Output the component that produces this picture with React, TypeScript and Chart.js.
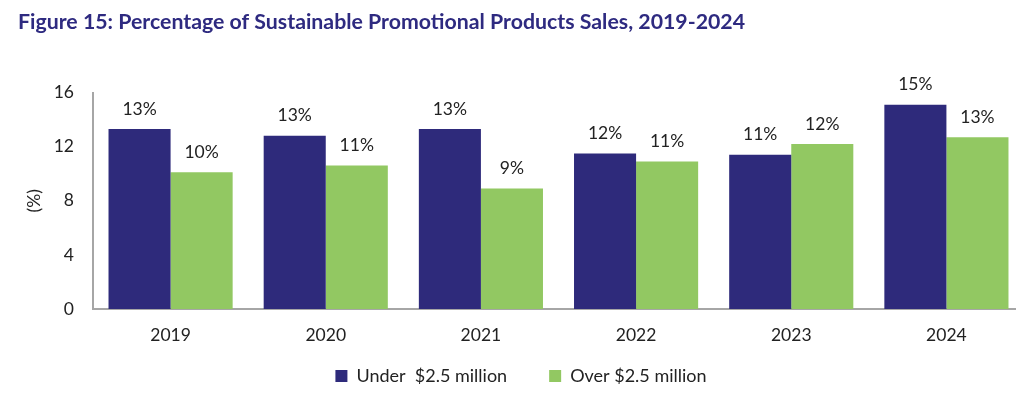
import React, { useEffect, useRef } from "react";
import { Chart, registerables } from "chart.js";

Chart.register(...registerables);

const categories = ["2019", "2020", "2021", "2022", "2023", "2024"];
const underValues = [13.3, 12.8, 13.3, 11.5, 11.4, 15.1];
const overValues = [10.1, 10.6, 8.9, 10.9, 12.2, 12.7];
const underLabels = ["13%", "13%", "13%", "12%", "11%", "15%"];
const overLabels = ["10%", "11%", "9%", "11%", "12%", "13%"];
const seriesNames = ["Under  $2.5 million", "Over $2.5 million"];
const yTicks = [0, 4, 8, 12, 16];

const FONT = "Lato, 'Open Sans', sans-serif";
const LEGEND_HEIGHT = 49;
const LEGEND_SHIFT = -24;

const valueLabelPlugin = {
  id: "valueLabels",
  afterDatasetsDraw(chart: any) {
    const ctx = chart.ctx;
    const labelSets = [underLabels, overLabels];
    ctx.save();
    ctx.font = `17.5px ${FONT}`;
    ctx.fillStyle = "#222222";
    ctx.textAlign = "center";
    ctx.textBaseline = "middle";
    chart.data.datasets.forEach((_ds: any, di: number) => {
      const meta = chart.getDatasetMeta(di);
      meta.data.forEach((bar: any, i: number) => {
        ctx.fillText(labelSets[di][i], bar.x, bar.y - 20);
      });
    });
    ctx.restore();
  },
};

const legendLayoutPlugin = {
  id: "legendLayout",
  beforeLayout(chart: any) {
    const lg = chart.legend;
    if (lg && !lg.__patched) {
      const orig = lg.fit.bind(lg);
      lg.fit = function () {
        orig();
        this.height = LEGEND_HEIGHT;
      };
      lg.__patched = true;
    }
  },
  afterLayout(chart: any) {
    const lg = chart.legend;
    if (lg) {
      lg.top += LEGEND_SHIFT;
      lg.height -= LEGEND_SHIFT;
    }
  },
};

export default function App() {
  const ref = useRef<HTMLCanvasElement | null>(null);
  useEffect(() => {
    if (!ref.current) return;
    const chart = new Chart(ref.current, {
      type: "bar",
      data: {
        labels: categories,
        datasets: [
          {
            label: seriesNames[0],
            data: underValues,
            backgroundColor: "#2E2A7B",
            borderWidth: 0,
          },
          {
            label: seriesNames[1],
            data: overValues,
            backgroundColor: "#92C862",
            borderWidth: 0,
          },
        ],
      },
      options: {
        animation: false,
        responsive: false,
        maintainAspectRatio: false,
        layout: { padding: { left: 18, right: 0, top: 0, bottom: 0 } },
        datasets: { bar: { categoryPercentage: 0.8, barPercentage: 1.0 } },
        plugins: {
          title: {
            display: true,
            text: "Figure 15: Percentage of Sustainable Promotional Products Sales, 2019-2024",
            align: "start",
            color: "#2E2A80",
            font: { family: FONT, size: 21.3, weight: "bold" },
            padding: { top: 9, bottom: 58 },
          },
          legend: {
            position: "bottom",
            labels: {
              color: "#222222",
              font: { family: FONT, size: 18 },
              boxWidth: 12,
              boxHeight: 12,
              padding: 42,
            },
          },
          tooltip: { enabled: false },
        },
        scales: {
          x: {
            grid: { display: false, drawTicks: false },
            border: { display: true, color: "#A6A6A6", width: 2 },
            ticks: { color: "#222222", font: { family: FONT, size: 17.5 }, padding: 16 },
            afterFit: (s: any) => {
              s.height = 40;
            },
          },
          y: {
            min: 0,
            max: 16,
            afterBuildTicks: (s: any) => {
              s.ticks = yTicks.map((v) => ({ value: v }));
            },
            grid: { display: false, drawTicks: false },
            border: { display: true, color: "#A6A6A6", width: 2 },
            ticks: { color: "#222222", font: { family: FONT, size: 17.5 }, padding: 19 },
            title: {
              display: true,
              text: "(%)",
              color: "#222222",
              font: { family: FONT, size: 17.5 },
              padding: { top: 6, bottom: 0 },
            },
            afterFit: (s: any) => {
              s.width = 75;
            },
          },
        },
      },
      plugins: [valueLabelPlugin, legendLayoutPlugin],
    });
    return () => chart.destroy();
  }, []);
  return (
    <div style={{ margin: -8, width: 1024, height: 398, background: "#fff" }}>
      <canvas ref={ref} width={1024} height={398} style={{ display: "block" }} />
    </div>
  );
}
